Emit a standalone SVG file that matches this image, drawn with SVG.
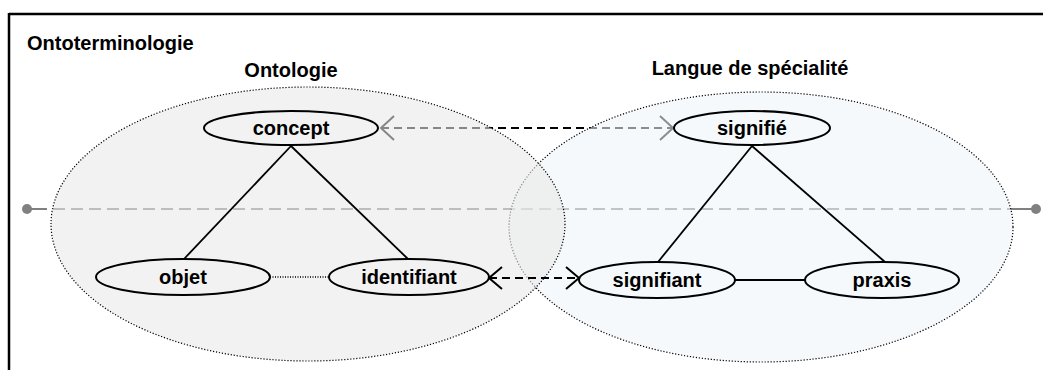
<svg xmlns="http://www.w3.org/2000/svg" width="1043" height="370" viewBox="0 0 1043 370">
<defs>
<style>
.t{font-family:"Liberation Sans",Arial,sans-serif;font-weight:bold;font-size:20px;fill:#000}
.n{fill:none;stroke:#000;stroke-width:2}
.zone{stroke:#000;stroke-width:1.2;stroke-dasharray:1.2,1.8}
.ln{stroke:#000;stroke-width:1.8;fill:none}
.arr{stroke:#000;stroke-width:2;fill:none;stroke-dasharray:8,5}
.head{stroke:#000;stroke-width:2;fill:none}
</style>
</defs>
<rect width="1043" height="370" fill="#fff"/>
<g id="frame">
<line x1="9" y1="14" x2="1043" y2="14" stroke="#000" stroke-width="2.5"/>
<line x1="9" y1="13" x2="9" y2="370" stroke="#000" stroke-width="2.5"/>
<text class="t" x="27" y="50">Ontoterminologie</text>
</g>
<g id="axis">
<line x1="27" y1="209" x2="1036" y2="209" stroke="#808080" stroke-width="2" stroke-dasharray="12,6" stroke-dashoffset="-8"/>
<line x1="27" y1="209" x2="45" y2="209" stroke="#808080" stroke-width="2"/>
<line x1="1018" y1="209" x2="1036" y2="209" stroke="#808080" stroke-width="2"/>
<circle cx="27" cy="209" r="5" fill="#808080"/>
<circle cx="1036" cy="209" r="5" fill="#808080"/>
</g>
<g id="connectors-under">
<line class="arr" x1="381" y1="128" x2="673" y2="128"/>
<polyline class="head" points="394,116 381,128 394,140"/>
<polyline class="head" points="660,116 673,128 660,140"/>
</g>
<g id="langue-de-specialite">
<ellipse class="zone" cx="761" cy="227" rx="252" ry="135" fill="rgb(238,245,248)" fill-opacity="0.58"/>
<text class="t" x="750" y="75" text-anchor="middle">Langue de spécialité</text>
</g>
<g id="ontologie">
<ellipse class="zone" cx="308" cy="224" rx="257" ry="137" fill="rgb(233,233,233)" fill-opacity="0.58"/>
<text class="t" x="291" y="77" text-anchor="middle">Ontologie</text>
</g>
<g id="connectors">
<line class="ln" x1="291" y1="146" x2="184" y2="259"/>
<line class="ln" x1="291" y1="146" x2="408" y2="259"/>
<line class="ln" x1="752" y1="146" x2="658" y2="262"/>
<line class="ln" x1="752" y1="146" x2="885" y2="262"/>
<line class="ln" x1="735" y1="280" x2="805" y2="280"/>
<line x1="270" y1="277" x2="330" y2="277" stroke="#000" stroke-width="1.3" stroke-dasharray="1,1.5"/>
<line class="arr" x1="489" y1="278" x2="579" y2="278"/>
<polyline class="head" points="502,267 489,278 502,289"/>
<polyline class="head" points="566,267 579,278 566,289"/>
</g>
<g id="concept">
<ellipse class="n" cx="291" cy="128" rx="87" ry="17"/>
<text class="t" x="291" y="135" text-anchor="middle">concept</text>
</g>
<g id="signifie">
<ellipse class="n" cx="752" cy="128" rx="78" ry="17"/>
<text class="t" x="752" y="135" text-anchor="middle">signifié</text>
</g>
<g id="objet">
<ellipse class="n" cx="183" cy="277" rx="87" ry="18"/>
<text class="t" x="183" y="284" text-anchor="middle">objet</text>
</g>
<g id="identifiant">
<ellipse class="n" cx="409" cy="277" rx="80" ry="18"/>
<text class="t" x="409" y="284" text-anchor="middle">identifiant</text>
</g>
<g id="signifiant">
<ellipse class="n" cx="657" cy="280" rx="78" ry="18"/>
<text class="t" x="657" y="287" text-anchor="middle">signifiant</text>
</g>
<g id="praxis">
<ellipse class="n" cx="882" cy="280" rx="77" ry="18"/>
<text class="t" x="882" y="287" text-anchor="middle">praxis</text>
</g>
</svg>
